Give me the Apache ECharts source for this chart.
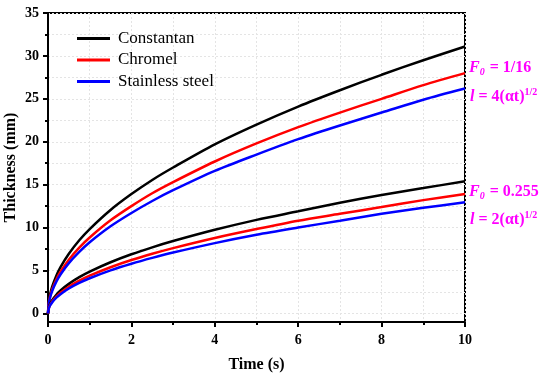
<!DOCTYPE html>
<html><head><meta charset="utf-8">
<script src="https://cdn.jsdelivr.net/npm/echarts@6/dist/echarts.min.js"></script>
<style>html,body{margin:0;padding:0;background:#fff}#c{width:550px;height:387px}</style>
</head><body><div id="c"></div>
<script>
// Time (s)
const times = [0, 0.02, 0.05, 0.1, 0.2, 0.3, 0.5, 0.75, 1, 1.5, 2, 2.5, 3, 4, 5, 6, 7, 8, 9, 10];
// F0 = 1/16, l = 4(at)^1/2
const constantanHigh = [0, 1.39, 2.2, 3.11, 4.4, 5.39, 6.95, 8.52, 9.83, 12.05, 13.9, 15.55, 17.0, 19.7, 22.0, 24.1, 26.0, 27.8, 29.5, 31.1];
const chromelHigh    = [0, 1.25, 1.98, 2.8, 3.96, 4.85, 6.26, 7.67, 8.85, 10.85, 12.5, 14.0, 15.3, 17.7, 19.8, 21.7, 23.4, 25.0, 26.6, 28.0];
const stainlessHigh  = [0, 1.17, 1.85, 2.62, 3.7, 4.54, 5.86, 7.17, 8.29, 10.15, 11.7, 13.1, 14.35, 16.6, 18.5, 20.3, 21.9, 23.4, 24.9, 26.2];
// F0 = 0.255, l = 2(at)^1/2
const constantanLow  = [0, 0.69, 1.09, 1.54, 2.18, 2.67, 3.44, 4.22, 4.87, 5.96, 6.89, 7.7, 8.43, 9.74, 10.9, 11.9, 12.9, 13.8, 14.6, 15.4];
const chromelLow     = [0, 0.62, 0.98, 1.39, 1.97, 2.41, 3.11, 3.81, 4.4, 5.38, 6.22, 6.95, 7.61, 8.79, 9.83, 10.8, 11.6, 12.4, 13.2, 13.9];
const stainlessLow   = [0, 0.58, 0.92, 1.29, 1.83, 2.24, 2.9, 3.55, 4.1, 5.02, 5.79, 6.47, 7.09, 8.19, 9.16, 10.0, 10.8, 11.6, 12.3, 12.95];

const seriesNames = ['Constantan', 'Chromel', 'Stainless steel'];
const yMajorTicks = [0, 5, 10, 15, 20, 25, 30, 35];
const yMinorTicks = [2.5, 7.5, 12.5, 17.5, 22.5, 27.5, 32.5];

const colors = ['#000000', '#ff0000', '#0000ff'];
const serif = 'Liberation Serif';
const pair = arr => times.map((t, i) => [t, arr[i]]);

function lineSeries(name, arr, color) {
  return {
    name, type: 'line', data: pair(arr), symbol: 'none', smooth: 0.3,
    lineStyle: { color, width: 2.5 }, itemStyle: { color }, z: 3
  };
}

const gridLine = { show: true, lineStyle: { color: '#e4e4e4', width: 1, type: [2, 2] } };

const chart = echarts.init(document.getElementById('c'));
chart.setOption({
  animation: false,
  backgroundColor: '#fff',
  grid: { left: 48, right: 85, top: 13, bottom: 65, outerBoundsMode: 'none', containLabel: false,
          show: true, borderColor: '#000', borderWidth: 2, backgroundColor: 'transparent' },
  legend: {
    data: seriesNames, orient: 'vertical', left: 77, top: 30, padding: 0,
    icon: 'rect', itemWidth: 33, itemHeight: 3, itemGap: 4.5,
    textStyle: { fontFamily: serif, fontSize: 17, color: '#000', lineHeight: 16, padding: [0, 0, 0, 3] }
  },
  xAxis: {
    type: 'value', min: 0, max: 10, interval: 2,
    name: 'Time (s)', nameLocation: 'middle', nameGap: 35, nameMoveOverlap: false,
    nameTextStyle: { fontFamily: serif, fontSize: 16, fontWeight: 'bold', color: '#000' },
    axisLine: { show: true, onZero: false, lineStyle: { color: '#000', width: 2 } },
    axisTick: { show: true, length: 5, lineStyle: { color: '#000', width: 2 } },
    minorTick: { show: true, splitNumber: 2, length: 3, lineStyle: { color: '#000', width: 2 } },
    axisLabel: { margin: 11, fontFamily: serif, fontSize: 14, fontWeight: 'bold', color: '#000' },
    splitLine: gridLine,
    minorSplitLine: gridLine
  },
  yAxis: [{
    type: 'value', min: -1, max: 35, position: 'left',
    name: 'Thickness (mm)', nameLocation: 'middle', nameGap: 29, nameMoveOverlap: false,
    nameTextStyle: { fontFamily: serif, fontSize: 16, fontWeight: 'bold', color: '#000' },
    axisLine: { show: true, onZero: false, lineStyle: { color: '#000', width: 2 } },
    axisTick: { show: true, length: 5, customValues: yMajorTicks, lineStyle: { color: '#000', width: 2 } },
    axisLabel: { margin: 9, customValues: yMajorTicks, fontFamily: serif, fontSize: 14, fontWeight: 'bold', color: '#000' },
    splitLine: gridLine
  }, {
    type: 'value', min: -1, max: 35, position: 'left',
    axisLine: { show: false },
    axisTick: { show: true, length: 3, customValues: yMinorTicks, lineStyle: { color: '#000', width: 2 } },
    axisLabel: { show: false, customValues: yMinorTicks },
    splitLine: gridLine
  }],
  series: [
    lineSeries(seriesNames[0], constantanHigh, colors[0]),
    lineSeries(seriesNames[1], chromelHigh, colors[1]),
    lineSeries(seriesNames[2], stainlessHigh, colors[2]),
    lineSeries(seriesNames[0], constantanLow, colors[0]),
    lineSeries(seriesNames[1], chromelLow, colors[1]),
    lineSeries(seriesNames[2], stainlessLow, colors[2])
  ],
  graphic: [
    { type: 'text', left: 469, top: 59, style: {
      text: '{i|F}{s|0}{b| = 1/16}', fill: '#ff00ff',
      rich: {
        i: { fontFamily: serif, fontSize: 16, fontWeight: 'bold', fontStyle: 'italic', fill: '#ff00ff', lineHeight: 20 },
        s: { fontFamily: serif, fontSize: 10, fontWeight: 'bold', fontStyle: 'italic', fill: '#ff00ff', padding: [8, 1, 0, 0], lineHeight: 20 },
        b: { fontFamily: serif, fontSize: 16, fontWeight: 'bold', fill: '#ff00ff', lineHeight: 20 }
      } } },
    { type: 'text', left: 470, top: 87, style: {
      text: '{i|l}{b| = 4(αt)}{p|1/2}', fill: '#ff00ff',
      rich: {
        i: { fontFamily: serif, fontSize: 16, fontWeight: 'bold', fontStyle: 'italic', fill: '#ff00ff', lineHeight: 20 },
        b: { fontFamily: serif, fontSize: 16, fontWeight: 'bold', fill: '#ff00ff', lineHeight: 20 },
        p: { fontFamily: serif, fontSize: 10, fontWeight: 'bold', fill: '#ff00ff', padding: [0, 0, 10, 0], lineHeight: 20 }
      } } },
    { type: 'text', left: 469, top: 183, style: {
      text: '{i|F}{s|0}{b| = 0.255}', fill: '#ff00ff',
      rich: {
        i: { fontFamily: serif, fontSize: 16, fontWeight: 'bold', fontStyle: 'italic', fill: '#ff00ff', lineHeight: 20 },
        s: { fontFamily: serif, fontSize: 10, fontWeight: 'bold', fontStyle: 'italic', fill: '#ff00ff', padding: [8, 1, 0, 0], lineHeight: 20 },
        b: { fontFamily: serif, fontSize: 16, fontWeight: 'bold', fill: '#ff00ff', lineHeight: 20 }
      } } },
    { type: 'text', left: 470, top: 210, style: {
      text: '{i|l}{b| = 2(αt)}{p|1/2}', fill: '#ff00ff',
      rich: {
        i: { fontFamily: serif, fontSize: 16, fontWeight: 'bold', fontStyle: 'italic', fill: '#ff00ff', lineHeight: 20 },
        b: { fontFamily: serif, fontSize: 16, fontWeight: 'bold', fill: '#ff00ff', lineHeight: 20 },
        p: { fontFamily: serif, fontSize: 10, fontWeight: 'bold', fill: '#ff00ff', padding: [0, 0, 10, 0], lineHeight: 20 }
      } } }
  ]
});
</script></body></html>
